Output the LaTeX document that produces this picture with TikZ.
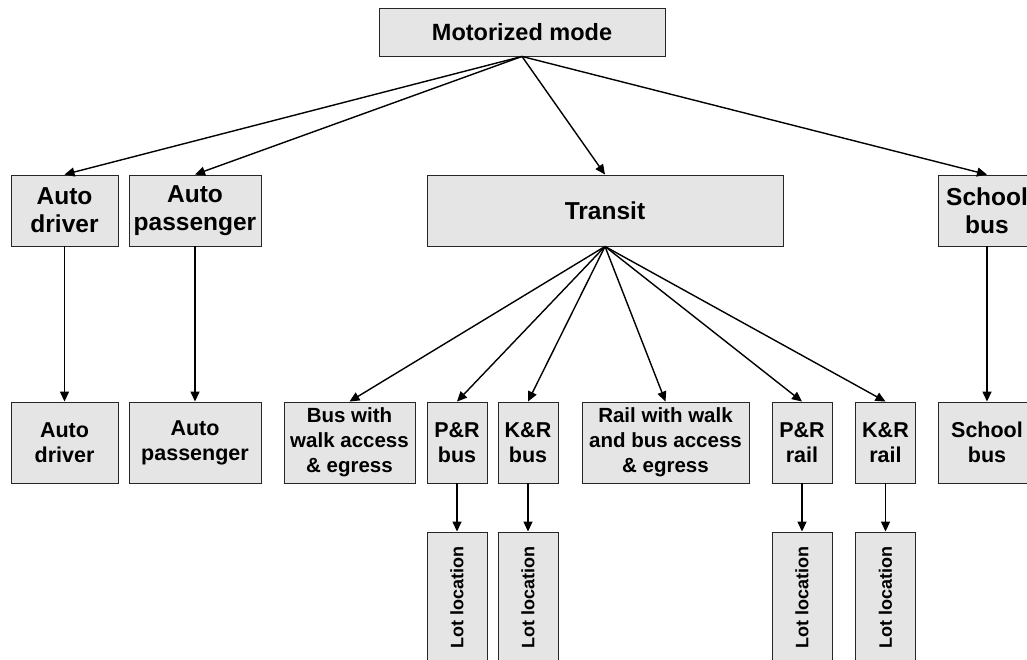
\documentclass[tikz,border=0pt]{standalone}
\usepackage{fontspec}
\usepackage{graphicx}
\setmainfont{Liberation Sans}
\usetikzlibrary{arrows.meta}
\definecolor{boxfill}{HTML}{E5E5E5}
\definecolor{boxline}{HTML}{262626}
\tikzset{
  box/.style={draw=boxline, line width=0.9pt, fill=boxfill, inner sep=0pt,
    align=center, font=\bfseries\fontsize{24.5}{28.3}\selectfont},
  smallbox/.style={box, font=\bfseries\fontsize{21.5}{25}\selectfont},
  widebox/.style={box, font=\bfseries\fontsize{20.5}{25}\selectfont},
  lotbox/.style={box, minimum width=60pt, minimum height=131pt,
    font=\bfseries\fontsize{18}{21}\selectfont},
  link/.style={line width=1.4pt, -{Triangle[length=10pt,width=9pt]}}
}
\begin{document}
\begin{tikzpicture}[x=1pt, y=-1pt]
\clip (0,0) rectangle (1027,660);
\fill[white] (0,0) rectangle (1027,660);

% top level
\node[box, minimum width=286pt, minimum height=48pt,
  font=\bfseries\fontsize{23.5}{28}\selectfont] (motor) at (522,32) {Motorized mode};

% motorized sub-modes
\node[box, minimum width=107pt, minimum height=71pt] (ad) at (64.5,210.5) {Auto\\driver};
\node[box, minimum width=132pt, minimum height=71pt] (ap) at (195,210.5) {Auto\\passenger};
\node[box, minimum width=356pt, minimum height=71pt] (tr) at (605,210.5) {Transit};
\node[box, minimum width=97pt, minimum height=71pt] (sb) at (987,210.5) {School\\bus};

% lower level
\node[smallbox, minimum width=107pt, minimum height=81pt] (ad2) at (64.5,442.5) {Auto\\driver};
\node[smallbox, minimum width=132pt, minimum height=81pt] (ap2) at (195,442.5) {Auto\\passenger};
\node[widebox, minimum width=131pt, minimum height=81pt] (bw) at (349.5,442.5) {Bus with\\walk access\\\& egress};
\node[smallbox, minimum width=60pt, minimum height=81pt] (prb) at (457,442.5) {P\&R\\bus};
\node[smallbox, minimum width=60pt, minimum height=81pt] (krb) at (528,442.5) {K\&R\\bus};
\node[widebox, minimum width=167pt, minimum height=81pt] (rw) at (665.5,442.5) {Rail with walk\\and bus access\\\& egress};
\node[smallbox, minimum width=60pt, minimum height=81pt] (prr) at (802,442.5) {P\&R\\rail};
\node[smallbox, minimum width=60pt, minimum height=81pt] (krr) at (885.5,442.5) {K\&R\\rail};
\node[smallbox, minimum width=97pt, minimum height=81pt] (sb2) at (987,442.5) {School\\bus};

% parking lot locations
\node[lotbox] (lot1) at (457,597.5) {\rotatebox{90}{Lot location}};
\node[lotbox] (lot2) at (528,597.5) {\rotatebox{90}{Lot location}};
\node[lotbox] (lot3) at (802,597.5) {\rotatebox{90}{Lot location}};
\node[lotbox] (lot4) at (885.5,597.5) {\rotatebox{90}{Lot location}};

% connectors
\foreach \t in {ad,ap,tr,sb} \draw[link] (motor.south) -- (\t.north);
\foreach \t in {bw,prb,krb,rw,prr,krr} \draw[link] (tr.south) -- (\t.north);
\draw[link] (ad.south) -- (ad2.north);
\draw[link] (ap.south) -- (ap2.north);
\draw[link] (sb.south) -- (sb2.north);
\draw[link] (prb.south) -- (lot1.north);
\draw[link] (krb.south) -- (lot2.north);
\draw[link] (prr.south) -- (lot3.north);
\draw[link] (krr.south) -- (lot4.north);
\end{tikzpicture}
\end{document}
